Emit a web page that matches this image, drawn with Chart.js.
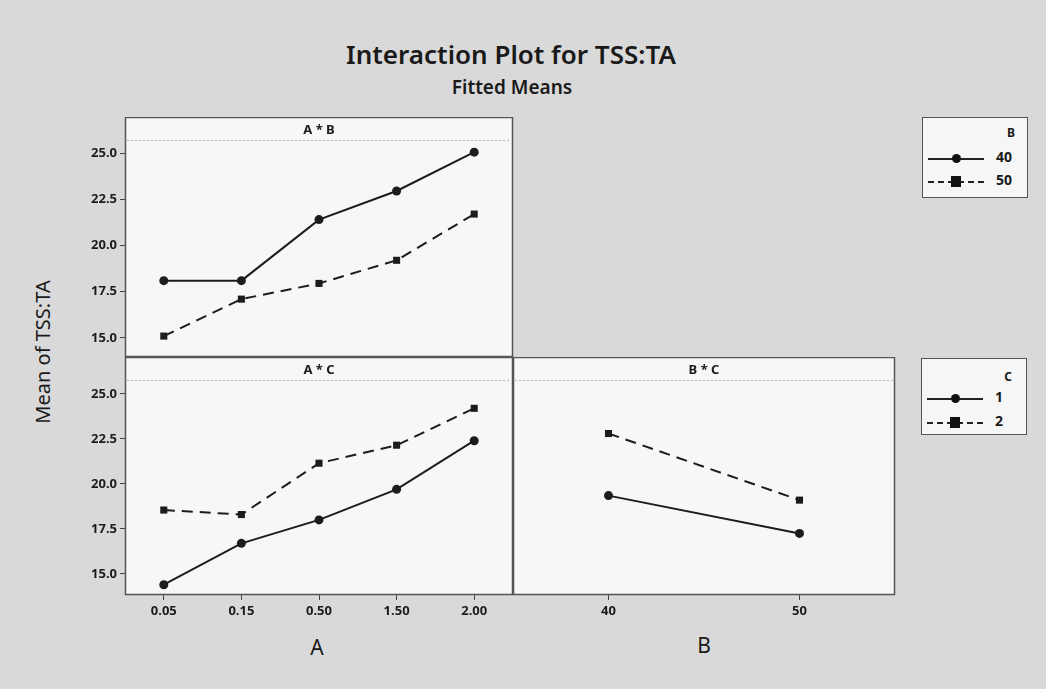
<!DOCTYPE html>
<html>
<head>
<meta charset="utf-8">
<script src="https://cdn.jsdelivr.net/npm/chart.js@4.4.1/dist/chart.umd.min.js"></script>
<style>
  body { margin: 0; background: #d9d9d9; font-family: "Noto Sans", "Open Sans", sans-serif; color: #1a1a1a; }
  #page { position: relative; width: 1046px; height: 689px; overflow: hidden; }
  canvas { position: absolute; }
  .txt { position: absolute; white-space: nowrap; }
  .legend { position: absolute; background: #f6f6f6; border: 1px solid #555; }
  .lg-row { position: absolute; left: 5px; width: 90px; height: 14px; }
  .lg-line { position: absolute; left: 0; top: 7px; width: 56px; border-top: 2px solid #222; }
  .lg-line.dash { border-top: 2px dashed #222; }
  .lg-dot { position: absolute; left: 24px; top: 3px; width: 9px; height: 9px; border-radius: 50%; background: #111; }
  .lg-sq { position: absolute; left: 23px; top: 2px; width: 10px; height: 11px; background: #111; }
  .lg-lab { position: absolute; left: 68px; top: -4px; font-size: 14px; font-weight: bold; }
</style>
</head>
<body>
<div id="page">
  <div class="txt" style="left:0;width:1022px;text-align:center;top:36px;font-size:26px;font-weight:600;">Interaction Plot for TSS:TA</div>
  <div class="txt" style="left:0;width:1024px;text-align:center;top:74px;font-size:19px;font-weight:600;">Fitted Means</div>
  <div class="txt" style="left:42px;top:352px;font-size:20px;transform:translate(-50%,-50%) rotate(-90deg);">Mean of TSS:TA</div>
  <div class="txt" style="left:317px;top:647px;font-size:21px;transform:translate(-50%,-50%);">A</div>
  <div class="txt" style="left:704px;top:645px;font-size:21px;transform:translate(-50%,-50%);">B</div>

  <canvas id="chartAB" style="left:0;top:117px;"></canvas>
  <canvas id="chartAC" style="left:0;top:357px;"></canvas>
  <canvas id="chartBC" style="left:513px;top:357px;"></canvas>

  <div class="legend" style="left:922px;top:117px;width:104px;height:79px;">
    <div class="txt" style="right:12px;top:6px;font-size:12px;font-weight:bold;">B</div>
    <div class="lg-row" style="top:33px;"><div class="lg-line"></div><div class="lg-dot"></div><div class="lg-lab">40</div></div>
    <div class="lg-row" style="top:56px;"><div class="lg-line dash"></div><div class="lg-sq"></div><div class="lg-lab">50</div></div>
  </div>
  <div class="legend" style="left:921px;top:358px;width:104px;height:75px;">
    <div class="txt" style="right:14px;top:9px;font-size:12px;font-weight:bold;">C</div>
    <div class="lg-row" style="top:32px;"><div class="lg-line"></div><div class="lg-dot"></div><div class="lg-lab">1</div></div>
    <div class="lg-row" style="top:56px;"><div class="lg-line dash"></div><div class="lg-sq"></div><div class="lg-lab">2</div></div>
  </div>
</div>
<script>
// factor levels
const aLevels = ["0.05", "0.15", "0.50", "1.50", "2.00"]
const bLevels = ["40", "50"]
const yTicks = [15, 17.5, 20, 22.5, 25]

// fitted means
const abB40 = [18.1, 18.1, 21.4, 22.95, 25.05]
const abB50 = [15.1, 17.1, 17.95, 19.2, 21.7]
const acC1 = [14.4, 16.7, 18.0, 19.7, 22.4]
const acC2 = [18.55, 18.3, 21.15, 22.15, 24.2]
const bcC1 = [19.35, 17.25]
const bcC2 = [22.8, 19.1]

const INK = "#1c1c1c"
const TICKFONT = { size: 13, weight: "bold", family: "Noto Sans" }

// panel background, border, strip title
const panelPlugin = {
  id: "panel",
  beforeDraw(chart) {
    const a = chart.chartArea, ctx = chart.ctx
    ctx.save()
    ctx.fillStyle = "#f7f7f7"
    ctx.fillRect(a.left, a.top, a.right - a.left, a.bottom - a.top)
    // dotted strip line under the panel label
    ctx.strokeStyle = "#b5b5b5"
    ctx.setLineDash([2, 2])
    ctx.lineWidth = 1
    ctx.beginPath()
    ctx.moveTo(a.left + 2, a.top + 23.5)
    ctx.lineTo(a.right - 2, a.top + 23.5)
    ctx.stroke()
    ctx.restore()
  },
  afterDraw(chart, args, opts) {
    const a = chart.chartArea, ctx = chart.ctx
    ctx.save()
    ctx.strokeStyle = "#555"
    ctx.lineWidth = 1.5
    ctx.strokeRect(a.left + 0.5, a.top + 0.5, a.right - a.left - 1, a.bottom - a.top - 1)
    ctx.fillStyle = INK
    ctx.font = "bold 13px 'Noto Sans'"
    ctx.textAlign = "center"
    ctx.textBaseline = "middle"
    ctx.fillText(opts.label, (a.left + a.right) / 2, a.top + 13)
    ctx.restore()
  }
}

function series(data, dashed) {
  return {
    data: data,
    borderColor: INK,
    backgroundColor: INK,
    borderWidth: 2,
    borderDash: dashed ? [11, 7] : [],
    pointStyle: dashed ? "rect" : "circle",
    pointRadius: dashed ? 5 : 4.5,
    pointBorderWidth: 0,
    tension: 0,
    clip: false
  }
}

function makeChart(id, w, h, labels, sets, opt) {
  const cv = document.getElementById(id)
  cv.width = w
  cv.height = h
  cv.style.width = w + "px"
  cv.style.height = h + "px"
  return new Chart(cv, {
    type: "line",
    data: { labels: labels, datasets: sets },
    plugins: [panelPlugin],
    options: {
      responsive: false,
      animation: false,
      layout: { autoPadding: false, padding: { left: 0, right: 1, top: 0, bottom: opt.showX ? 0 : 1 } },
      plugins: { legend: { display: false }, tooltip: { enabled: false }, panel: { label: opt.label } },
      scales: {
        x: {
          type: "category",
          offset: true,
          display: opt.showX,
          grid: { drawOnChartArea: false, drawTicks: true, tickLength: 5, color: "#444" },
          border: { display: false },
          ticks: { color: INK, font: TICKFONT, padding: 3 },
          afterFit(s) {
            if (opt.showX) s.height = 30
            s.paddingLeft = 0
            s.paddingRight = 0
          }
        },
        y: {
          min: opt.min,
          max: opt.max,
          display: opt.showY,
          afterBuildTicks(s) { s.ticks = yTicks.map(v => ({ value: v })) },
          grid: { drawOnChartArea: false, drawTicks: true, tickLength: 5, color: "#444" },
          border: { display: false },
          ticks: {
            color: INK,
            font: TICKFONT,
            padding: 3,
            callback: v => Number(v).toFixed(1)
          },
          afterFit(s) {
            if (opt.showY) s.width = 125
            s.paddingTop = 0
            s.paddingBottom = 0
          }
        }
      }
    }
  })
}

makeChart("chartAB", 514, 241, aLevels, [series(abB40, false), series(abB50, true)],
  { label: "A * B", showX: false, showY: true, min: 13.97, max: 26.95 })
makeChart("chartAC", 514, 268, aLevels, [series(acC1, false), series(acC2, true)],
  { label: "A * C", showX: true, showY: true, min: 13.83, max: 27.05 })
makeChart("chartBC", 383, 268, bLevels, [series(bcC1, false), series(bcC2, true)],
  { label: "B * C", showX: true, showY: false, min: 13.83, max: 27.05 })
</script>
</body>
</html>
